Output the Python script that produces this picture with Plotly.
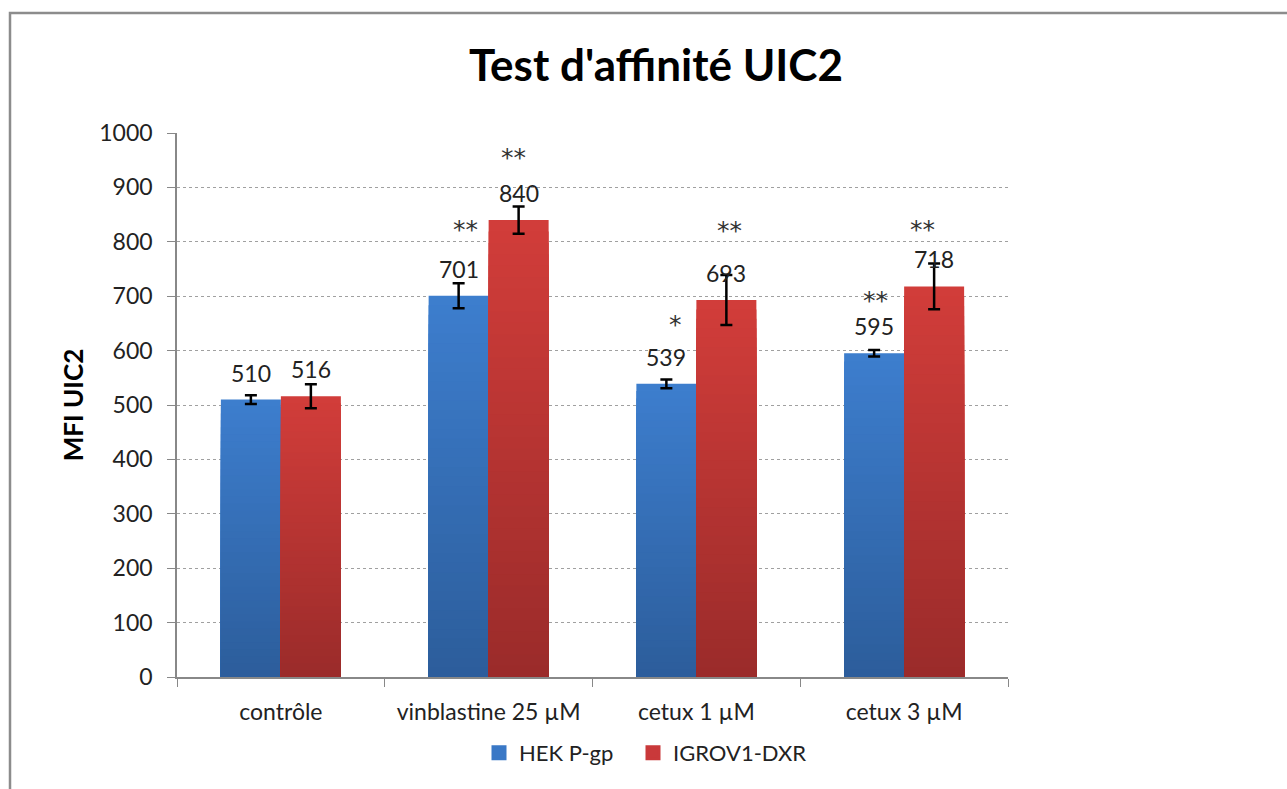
import plotly.graph_objects as go

categories = ["contrôle", "vinblastine 25 µM", "cetux 1 µM", "cetux 3 µM"]
series_names = ["HEK P-gp", "IGROV1-DXR"]
hek_values = [510, 701, 539, 595]
igrov_values = [516, 840, 693, 718]
hek_errors = [8, 23, 8, 6]
igrov_errors = [22, 25, 46, 42]
hek_stars = ["", "**", "*", "**"]
igrov_stars = ["", "**", "**", "**"]
y_ticks = list(range(0, 1001, 100))

# ---- style / layout config ----
FONT = "Lato, 'Open Sans', sans-serif"
STAR_FONT = "'DejaVu Sans', sans-serif"
W, H = 1287, 789
L, T = 177, 133
R, B = W - 1008, H - 677
BAR_W = 0.2888  # in category units
N_SLICES = 40
grad = {
    0: ((0x3D, 0x7E, 0xCE), (0x2C, 0x5D, 0x9B)),  # top, bottom
    1: ((0xD2, 0x3D, 0x3A), (0x9A, 0x2B, 0x2A)),
}
legend_col = ["#3a78c6", "#c9393a"]
legend_left_px = [479, 633]
STAR_SIZE = 25
star_yshift = [[0, 66, 59, 53], [0, 63, 70, 57]]
star_xshift = [[0, 7, 9, 1], [0, -5, 3, -12]]

def mix(c1, c2, t):
    return "rgb(%d,%d,%d)" % tuple(round(a + (b - a) * t) for a, b in zip(c1, c2))

fig = go.Figure()
all_vals = [hek_values, igrov_values]
all_errs = [hek_errors, igrov_errors]
all_stars = [hek_stars, igrov_stars]
offsets = [-BAR_W, 0.0]
legend_ids = ["legend", "legend2"]

for s in range(2):
    vals = all_vals[s]
    top, bot = grad[s]
    for k in range(N_SLICES - 1, -1, -1):
        frac = (k + 1) / N_SLICES
        fig.add_trace(go.Bar(
            x=categories,
            y=[v * frac for v in vals],
            offset=offsets[s], width=BAR_W,
            marker=dict(color=mix(bot, top, (k + 0.5) / N_SLICES), line=dict(width=0)),
            showlegend=False, hoverinfo="skip",
        ))
    fig.add_trace(go.Bar(
        x=categories, y=vals, offset=offsets[s], width=BAR_W,
        marker=dict(color="rgba(0,0,0,0)", line=dict(width=0)),
        error_y=dict(type="data", array=all_errs[s], color="black", thickness=2.5, width=6),
        name=series_names[s], showlegend=False,
    ))
    fig.add_trace(go.Bar(
        x=[None], y=[None], name=series_names[s],
        marker=dict(color=legend_col[s], line=dict(color=legend_col[s], width=3)),
        showlegend=True, legend=legend_ids[s],
    ))

annotations = []
for s in range(2):
    xs = -30 if s == 0 else 30
    for i, c in enumerate(categories):
        v = all_vals[s][i]
        annotations.append(dict(
            x=c, y=v, xref="x", yref="y", text=str(v), showarrow=False,
            xshift=xs, yshift=27, yanchor="middle",
            font=dict(family=FONT, size=23, color="#222"),
        ))
        st = all_stars[s][i]
        if st:
            annotations.append(dict(
                x=c, y=v, xref="x", yref="y", text=st, showarrow=False,
                xshift=xs + star_xshift[s][i], yshift=star_yshift[s][i], yanchor="middle",
                font=dict(family=STAR_FONT, size=STAR_SIZE, color="#333"),
            ))

pw, ph = W - L - R, H - T - B
def px_x(px):
    return (px - L) / pw
def px_y(py):
    return ((H - B) - py) / ph

shapes = [dict(
    type="rect", xref="paper", yref="paper",
    x0=px_x(10), x1=px_x(1400), y0=px_y(900), y1=px_y(13),
    line=dict(color="#8c8c8c", width=2.5), fillcolor="rgba(0,0,0,0)", layer="above",
)]

legend_common = dict(orientation="h", xanchor="left", y=px_y(753), yanchor="middle",
                     font=dict(family=FONT, size=22, color="#222"), itemwidth=30,
                     bgcolor="rgba(0,0,0,0)")

fig.update_layout(
    width=W, height=H,
    margin=dict(l=L, r=R, t=T, b=B, pad=0),
    paper_bgcolor="white", plot_bgcolor="white",
    barmode="overlay",
    title=dict(text="<b>Test d'affinité UIC2</b>", x=656 / W, xanchor="center",
               y=1 - 66 / H, yanchor="middle",
               font=dict(family=FONT, size=44, color="black")),
    xaxis=dict(
        type="category", tickson="boundaries", ticks="outside", ticklen=8,
        tickcolor="#888", showline=True, linecolor="#888", linewidth=1.5,
        tickfont=dict(family=FONT, size=23, color="#222"), showgrid=False,
        range=[-0.5, 3.5], ticklabelstandoff=14,
    ),
    yaxis=dict(
        range=[0, 1000], tickvals=y_ticks, ticks="outside", ticklen=8,
        tickcolor="#888", showline=True, linecolor="#888", linewidth=1.5,
        gridcolor="#a0a0a0", griddash="dot", gridwidth=1,
        tickfont=dict(family=FONT, size=23, color="#222"), ticklabelstandoff=10,
        title=dict(text="<b>MFI UIC2</b>", font=dict(family=FONT, size=26, color="black"), standoff=8),
        zeroline=False,
    ),
    legend=dict(x=px_x(legend_left_px[0]), **legend_common),
    legend2=dict(x=px_x(legend_left_px[1]), **legend_common),
    annotations=annotations,
    shapes=shapes,
)

fig.write_html("out.html", config={"displayModeBar": False},
               post_script="document.body.style.margin='0px';")
